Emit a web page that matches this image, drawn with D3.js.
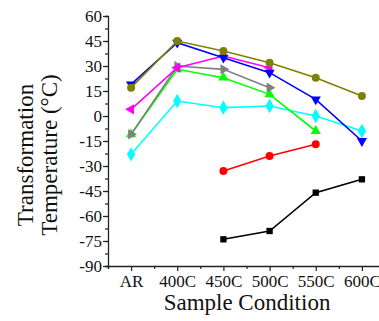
<!DOCTYPE html>
<html><head><meta charset="utf-8">
<script src="https://cdn.jsdelivr.net/npm/d3@7"></script>
<style>body{margin:0;background:#fff}svg{display:block}</style>
</head><body><svg id="c" width="379" height="321"></svg>
<script>
const categories = ["AR","400C","450C","500C","550C","600C"];
const yTicks = [60,45,30,15,0,-15,-30,-45,-60,-75,-90];
const blackSq   = [null,null,-74,-69,-46,-38];
const redCirc   = [null,null,-33,-24,-17,null];
const cyanDiam  = [-23,9,5,6,0,-9];
const greenUp   = [-11,28,23,13,-9,null];
const grayRight = [-11,30,28,17,null,null];
const magLeft   = [4,29,36,29,null,null];
const blueDown  = [19,44,35,26,10,-15];
const oliveCirc = [17,45,39,32,23,12];

const FONT = "'Liberation Serif', 'Times New Roman', Times, 'DejaVu Serif', serif";

const series = [
  {v: blackSq, color:"#000000", sym:"square"},
  {v: redCirc, color:"#ff0000", sym:"circle"},
  {v: cyanDiam, color:"#00ffff", sym:"diamond"},
  {v: greenUp, color:"#00ff00", sym:"up"},
  {v: grayRight, color:"#808080", sym:"right"},
  {v: magLeft, color:"#ff00ff", sym:"left"},
  {v: blueDown, color:"#0000ff", sym:"down"},
  {v: oliveCirc, color:"#808000", sym:"circle"}
];

const svg = d3.select("#c");
const x = d3.scaleLinear().domain([-0.5, 5.5]).range([108, 385]);
const y = d3.scaleLinear().domain([-90, 60]).range([266, 16]);

// y axis
const yMinor = d3.range(-90, 61, 7.5);
const gy = svg.append("g").attr("transform","translate(108,0)");
gy.call(d3.axisLeft(y).tickValues(yMinor).tickSize(3).tickFormat(""));
gy.append("g").call(d3.axisLeft(y).tickValues(yTicks).tickSize(5).tickFormat(d=>d));
gy.selectAll("path").attr("stroke","#222").attr("stroke-width",1.3);
gy.selectAll("line").attr("stroke","#222").attr("stroke-width",1.2);
gy.selectAll("text").style("font-family",FONT).style("font-size","17px").attr("fill","#111").attr("x",-6).attr("dy","0.34em");
gy.selectAll("g g .domain").remove();

// x axis
const gx = svg.append("g").attr("transform","translate(0,266)");
gx.call(d3.axisBottom(x).tickValues(d3.range(-0.5,5.6,1)).tickSize(3).tickFormat(""));
gx.append("g").call(d3.axisBottom(x).tickValues(d3.range(0,6)).tickSize(5).tickFormat(i=>categories[i]));
gx.selectAll("path").attr("stroke","#222").attr("stroke-width",1.3);
gx.selectAll("line").attr("stroke","#222").attr("stroke-width",1.2);
gx.selectAll("text").style("font-family",FONT).style("font-size","17px").attr("fill","#111").attr("y",9);
gx.selectAll("g g .domain").remove();

// series
const symMap = {square:d3.symbolSquare, circle:d3.symbolCircle, diamond:d3.symbolDiamond, up:d3.symbolTriangle, down:d3.symbolTriangle, left:d3.symbolTriangle, right:d3.symbolTriangle};
const rot = {up:0, down:180, left:-90, right:90};
const line = d3.line().defined(d=>d.v!==null).x(d=>x(d.i)).y(d=>y(d.v));
series.forEach(s=>{
  const pts = s.v.map((v,i)=>({v,i}));
  svg.append("path").datum(pts).attr("d",line).attr("fill","none").attr("stroke",s.color).attr("stroke-width",1.6);
  const size = s.sym==="diamond"?60:(s.sym==="circle"?50:(s.sym==="square"?40:45));
  svg.append("g").selectAll("path").data(pts.filter(p=>p.v!==null)).join("path")
    .attr("d",d3.symbol().type(symMap[s.sym]).size(size))
    .attr("transform",p=>`translate(${x(p.i)},${y(p.v)}) rotate(${rot[s.sym]||0})`)
    .attr("fill",s.color);
});

// labels
const lab = (sel)=>sel.attr("text-anchor","middle").style("font-family",FONT).style("font-size","23px").attr("fill","#111");
svg.append("text").attr("transform","translate(33,155) rotate(-90)").call(lab).text("Transformation");
svg.append("text").attr("transform","translate(57,155) rotate(-90)").call(lab).text("Temperature (°C)");
svg.append("text").attr("x",247).attr("y",310).call(lab).text("Sample Condition");
</script></body></html>
